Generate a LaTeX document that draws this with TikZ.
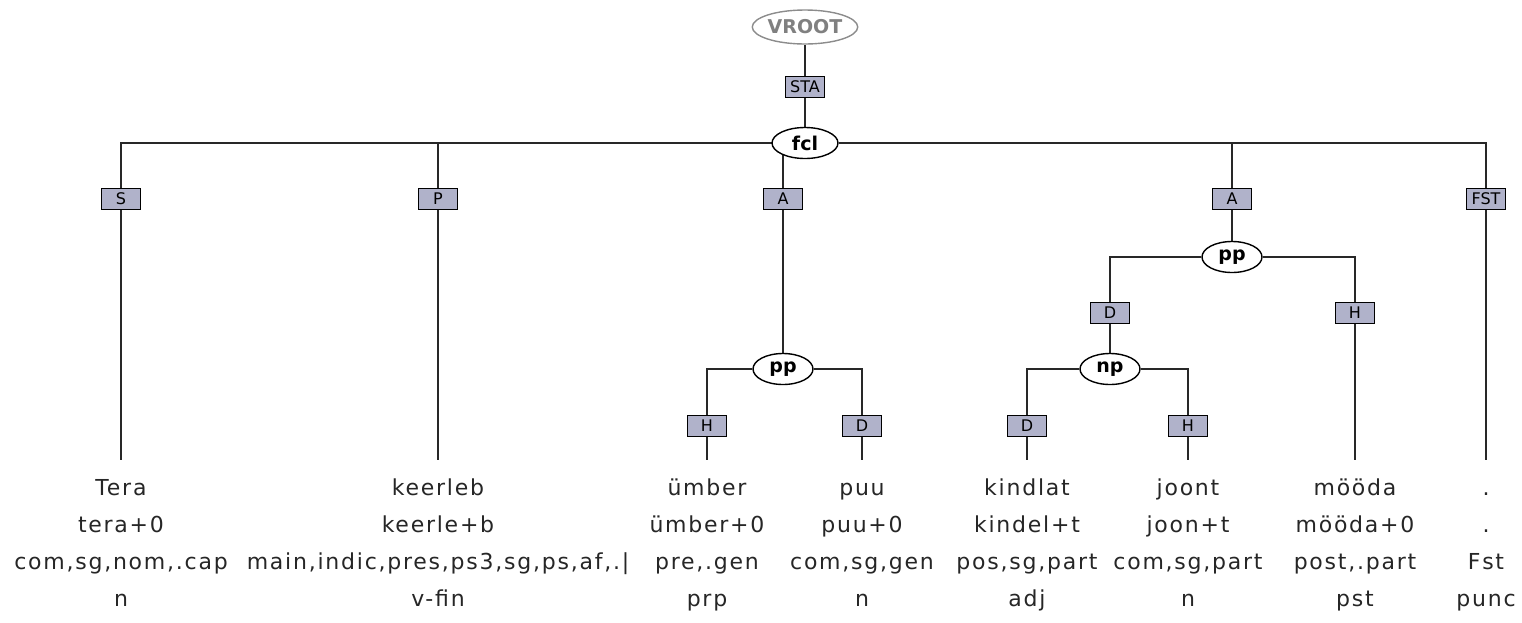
\documentclass[tikz,border=0pt]{standalone}
\usepackage{fontspec}
\usetikzlibrary{shapes,calc,backgrounds}
\newfontfamily\treefont{DejaVu Sans}
\newfontfamily\leaffont[LetterSpace=8]{DejaVu Sans}
\newcommand\toprow{\vphantom{Tk}}
\definecolor{edgegray}{RGB}{40,40,40}
\definecolor{funcfill}{RGB}{176,178,202}
\tikzset{
  func/.style={rectangle, draw=black, fill=funcfill, line width=0.7pt, minimum width=19.5pt, minimum height=10.5pt, inner sep=0.5pt, font=\treefont\fontsize{8}{9}\selectfont},
  phrase/.style={ellipse, draw=black, fill=white, line width=0.7pt, minimum width=30pt, minimum height=15.5pt, inner sep=0pt, font=\treefont\bfseries\fontsize{9.5}{10}\selectfont},
  leaf/.style={anchor=north, align=center, inner xsep=0pt, inner ysep=9pt, text=black!85, font=\leaffont\fontsize{11}{18.5}\selectfont},
  edge/.style={draw=edgegray, line width=0.7pt}
}
\begin{document}
\begin{tikzpicture}[x=0.5pt, y=-0.5pt]
		\useasboundingbox (0,0) rectangle (1522,622);
		\path (805, 27) node[ellipse, draw=black!45, fill=white, line width=0.7pt, minimum width=46pt, minimum height=17pt, inner sep=0pt, text=black!50, font=\treefont\bfseries\fontsize{9.5}{10}\selectfont] (vroot) {VROOT}
  		(805, 87) node[func] (sta) {STA}
  		(805, 143) node[phrase, minimum width=33pt] (fcl) {fcl}
  		(121, 199) node[func] (s) {S}
  		(438, 199) node[func] (p) {P}
  		(783, 199) node[func] (aone) {A}
  		(1232, 199) node[func] (atwo) {A}
  		(1486, 199) node[func] (fst) {FST}
  		(783, 369) node[phrase] (ppone) {pp}
  		(707, 426) node[func] (hone) {H}
  		(862, 426) node[func] (done) {D}
  		(1232, 257) node[phrase] (pptwo) {pp}
  		(1110, 313) node[func] (dtwo) {D}
  		(1355, 313) node[func] (htwo) {H}
  		(1110, 369) node[phrase] (np) {np}
  		(1027, 426) node[func] (dthree) {D}
  		(1188, 426) node[func] (hthree) {H}
  		(121, 460) node[leaf] (tera) {\toprow Tera\\tera+0\\com,sg,nom,.cap\\n}
  		(438, 460) node[leaf] (keerleb) {\toprow keerleb\\keerle+b\\main,indic,pres,ps3,sg,ps,af,.|\\v-fin}
  		(707, 460) node[leaf] (umber) {\toprow ümber\\ümber+0\\pre,.gen\\prp}
  		(862, 460) node[leaf] (puu) {\toprow puu\\puu+0\\com,sg,gen\\n}
  		(1027, 460) node[leaf] (kindlat) {\toprow kindlat\\kindel+t\\pos,sg,part\\adj}
  		(1188, 460) node[leaf] (joont) {\toprow joont\\joon+t\\com,sg,part\\n}
  		(1355, 460) node[leaf] (mooda) {\toprow mööda\\mööda+0\\post,.part\\pst}
  		(1486, 460) node[leaf] (punct) {\toprow .\\.\\Fst\\punc};

		\begin{scope}[on background layer]
		\draw[edge] (vroot) -- (sta);
		\draw[edge] (sta) -- (fcl);
		\draw[edge] (fcl) -| (s);
		\draw[edge] (fcl) -| (p);
		\draw[edge] (fcl) -| (aone);
		\draw[edge] (fcl) -| (atwo);
		\draw[edge] (fcl) -| (fst);
		\draw[edge] (aone) -- (ppone);
		\draw[edge] (ppone) -| (hone);
		\draw[edge] (ppone) -| (done);
		\draw[edge] (atwo) -- (pptwo);
		\draw[edge] (pptwo) -| (dtwo);
		\draw[edge] (pptwo) -| (htwo);
		\draw[edge] (dtwo) -- (np);
		\draw[edge] (np) -| (dthree);
		\draw[edge] (np) -| (hthree);
		\draw[edge] (s) -- (tera);
		\draw[edge] (p) -- (keerleb);
		\draw[edge] (hone) -- (umber);
		\draw[edge] (done) -- (puu);
		\draw[edge] (dthree) -- (kindlat);
		\draw[edge] (hthree) -- (joont);
		\draw[edge] (htwo) -- (mooda);
		\draw[edge] (fst) -- (punct);
		\end{scope}
	\end{tikzpicture}
\end{document}
